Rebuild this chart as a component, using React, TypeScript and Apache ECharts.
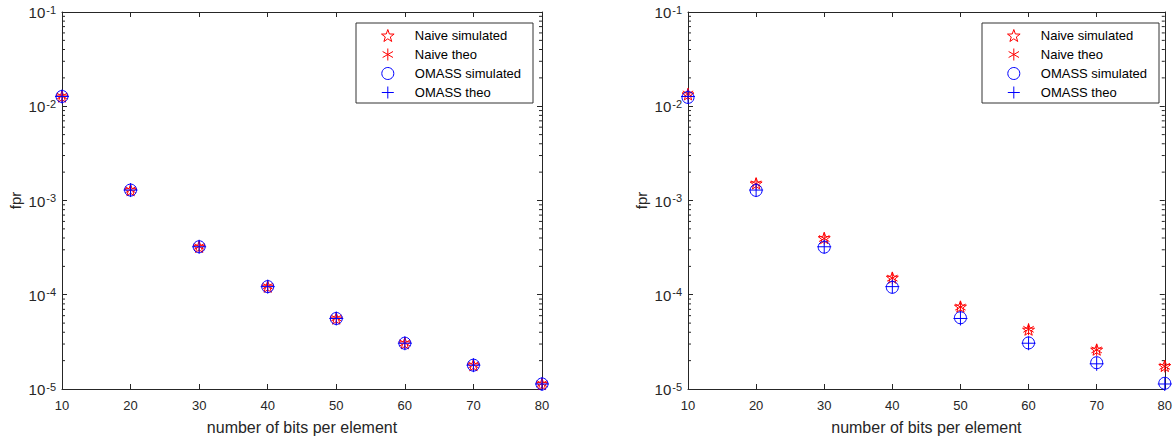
import React, { useEffect, useRef } from "react";
import * as echarts from "echarts";

const xBits = [10, 20, 30, 40, 50, 60, 70, 80];

// Left panel
const naiveSimLeft = [0.0127, 1.29e-3, 3.23e-4, 1.22e-4, 5.6e-5, 3.06e-5, 1.79e-5, 1.13e-5];
const naiveTheoLeft = [0.0128, 1.3e-3, 3.25e-4, 1.23e-4, 5.65e-5, 3.08e-5, 1.8e-5, 1.14e-5];
const omassSimLeft = [0.0127, 1.29e-3, 3.23e-4, 1.22e-4, 5.6e-5, 3.06e-5, 1.79e-5, 1.13e-5];
const omassTheoLeft = [0.0127, 1.29e-3, 3.23e-4, 1.22e-4, 5.6e-5, 3.06e-5, 1.79e-5, 1.13e-5];

// Right panel
const naiveSimRight = [0.0134, 1.52e-3, 4.0e-4, 1.52e-4, 7.5e-5, 4.27e-5, 2.62e-5, 1.76e-5];
const naiveTheoRight = [0.0135, 1.5e-3, 3.95e-4, 1.5e-4, 7.4e-5, 4.3e-5, 2.6e-5, 1.74e-5];
const omassSimRight = [0.0124, 1.28e-3, 3.2e-4, 1.2e-4, 5.7e-5, 3.08e-5, 1.9e-5, 1.15e-5];
const omassTheoRight = [0.0127, 1.29e-3, 3.23e-4, 1.22e-4, 5.6e-5, 3.06e-5, 1.85e-5, 1.13e-5];

const seriesNames = ["Naive simulated", "Naive theo", "OMASS simulated", "OMASS theo"];
const yMin = 1e-5;
const yMax = 1e-1;
const minorTickValues = [
  2e-5, 3e-5, 4e-5, 5e-5, 6e-5, 7e-5, 8e-5, 9e-5,
  2e-4, 3e-4, 4e-4, 5e-4, 6e-4, 7e-4, 8e-4, 9e-4,
  2e-3, 3e-3, 4e-3, 5e-3, 6e-3, 7e-3, 8e-3, 9e-3,
  2e-2, 3e-2, 4e-2, 5e-2, 6e-2, 7e-2, 8e-2, 9e-2,
];

const FONT = "'Liberation Sans', Arial, Helvetica, sans-serif";
const AX = "#262626";
const RED = "#ff0000";
const BLUE = "#0000ff";

function starPath(): string {
  const pts: string[] = [];
  for (let k = 0; k < 10; k++) {
    const r = k % 2 === 0 ? 1 : 0.4;
    const a = ((-90 + k * 36) * Math.PI) / 180;
    pts.push(`${(r * Math.cos(a)).toFixed(4)},${(r * Math.sin(a)).toFixed(4)}`);
  }
  return "path://M" + pts.join("L") + "Z";
}
const STAR = starPath();
const ASTER = "path://M0,-1L0,1M-0.866,-0.5L0.866,0.5M-0.866,0.5L0.866,-0.5";
const PLUS = "path://M-1,0L1,0M0,-1L0,1";
const CIRCLE = "circle";

const symbols = [STAR, ASTER, CIRCLE, PLUS];
const colors = [RED, RED, BLUE, BLUE];
const sizes = [12, 12, 12, 14];

export default function App() {
  const ref = useRef<HTMLDivElement>(null);
  useEffect(() => {
    document.body.style.margin = "0";
    const chart = echarts.init(ref.current!, undefined, { renderer: "svg" });

    const grids = [
      { left: 62, top: 10, width: 480, height: 379 },
      { left: 688, top: 10, width: 480, height: 379 },
    ];
    const xAxes: any[] = [];
    const yAxes: any[] = [];
    grids.forEach((_, gi) => {
      xAxes.push({
        type: "value", gridIndex: gi, position: "bottom", min: 10, max: 80, interval: 10,
        name: "number of bits per element", nameLocation: "middle", nameGap: 30,
        nameTextStyle: { fontFamily: FONT, fontSize: 16, color: AX },
        axisLine: { show: true, onZero: false, lineStyle: { color: AX, width: 1 } },
        axisTick: { show: true, inside: true, length: 5, lineStyle: { color: AX } },
        axisLabel: { fontFamily: FONT, fontSize: 13, color: AX, margin: 10 },
        splitLine: { show: false },
      });
      xAxes.push({
        type: "value", gridIndex: gi, position: "top", min: 10, max: 80, interval: 10,
        axisLine: { show: true, onZero: false, lineStyle: { color: AX, width: 1 } },
        axisTick: { show: true, inside: true, length: 5, lineStyle: { color: AX } },
        axisLabel: { show: false },
        splitLine: { show: false },
      });
      yAxes.push({
        type: "log", logBase: 10, gridIndex: gi, position: "left", min: yMin, max: yMax,
        name: "fpr", nameLocation: "middle", nameGap: 39, nameRotate: 90,
        nameTextStyle: { fontFamily: FONT, fontSize: 15, color: AX },
        axisLine: { show: true, onZero: false, lineStyle: { color: AX, width: 1 } },
        axisTick: { show: true, inside: true, length: 5, lineStyle: { color: AX } },
        axisLabel: {
          margin: 6,
          formatter: (v: number) => `{b|10}{s|${Math.round(Math.log10(v))}}`,
          rich: {
            b: { fontFamily: FONT, fontSize: 15, color: AX, lineHeight: 16, verticalAlign: "bottom", padding: [5, 0, 0, 0] },
            s: { fontFamily: FONT, fontSize: 11, color: AX, lineHeight: 16, verticalAlign: "top", padding: [0, 0, 5, 1] },
          },
        },
        splitLine: { show: false },
      });
      yAxes.push({
        type: "log", logBase: 10, gridIndex: gi, position: "right", min: yMin, max: yMax,
        axisLine: { show: true, onZero: false, lineStyle: { color: AX, width: 1 } },
        axisTick: { show: true, inside: true, length: 5, lineStyle: { color: AX } },
        axisLabel: { show: false },
        splitLine: { show: false },
      });
    });

    const panelData = [
      [naiveSimLeft, naiveTheoLeft, omassSimLeft, omassTheoLeft],
      [naiveSimRight, naiveTheoRight, omassSimRight, omassTheoRight],
    ];

    const series: any[] = [];
    panelData.forEach((sets, gi) => {
      // minor ticks on the log axes
      series.push({
        type: "custom",
        name: "minorTicks" + gi,
        xAxisIndex: gi * 2,
        yAxisIndex: gi * 2,
        silent: true,
        clip: false,
        data: minorTickValues.map((v) => [10, v]),
        encode: { x: 0, y: 1 },
        renderItem: (params: any, api: any) => {
          const v = api.value(1);
          const pl = api.coord([10, v]);
          const pr = api.coord([80, v]);
          const st = { stroke: AX, lineWidth: 1 };
          return {
            type: "group",
            children: [
              { type: "line", shape: { x1: pl[0], y1: pl[1], x2: pl[0] + 3, y2: pl[1] }, style: st },
              { type: "line", shape: { x1: pr[0] - 3, y1: pr[1], x2: pr[0], y2: pr[1] }, style: st },
            ],
          };
        },
      });
      sets.forEach((vals, si) => {
        series.push({
          type: "scatter",
          name: seriesNames[si],
          xAxisIndex: gi * 2,
          yAxisIndex: gi * 2,
          symbol: symbols[si],
          symbolSize: sizes[si],
          symbolKeepAspect: true,
          clip: false,
          data: xBits.map((x, i) => [x, vals[i]]),
          itemStyle: { color: "transparent", borderColor: colors[si], borderWidth: 1, opacity: 1 },
          emphasis: { disabled: true },
          z: 3 + si,
        });
      });
    });

    const legendData = seriesNames.map((n, i) => ({
      name: n,
      icon: symbols[i],
      itemStyle: { color: "transparent", borderColor: colors[i], borderWidth: 1 },
    }));
    const legends = [356, 982].map((left) => ({
      left, top: 23, orient: "vertical",
      data: legendData,
      itemWidth: 44, itemHeight: 12, itemGap: 6,
      padding: [6, 12, 4, 25],
      borderColor: "#333", borderWidth: 1, backgroundColor: "#fff",
      textStyle: { fontFamily: FONT, fontSize: 13, color: "#000" },
      selectedMode: false,
    }));

    chart.setOption({
      animation: false,
      backgroundColor: "#fff",
      grid: grids,
      xAxis: xAxes,
      yAxis: yAxes,
      legend: legends,
      series,
    });
    return () => chart.dispose();
  }, []);
  return <div ref={ref} style={{ width: 1175, height: 444 }} />;
}
